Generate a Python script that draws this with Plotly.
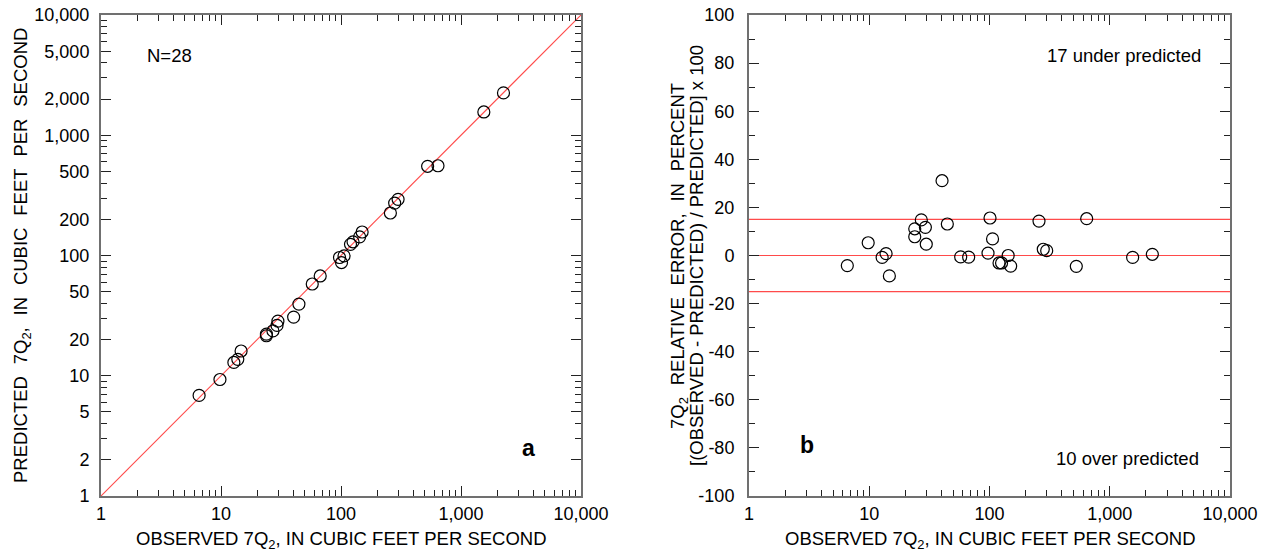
import plotly.graph_objects as go

# ---- data ----
observed = [6.57, 9.8, 12.8, 13.8, 14.7, 23.9, 23.9, 27.1, 29.3, 29.8, 40.3, 44.6, 57.6, 67.1,
            97.2, 101, 106, 120, 126, 143, 150, 258, 280, 299, 527, 643, 1550, 2260]
predicted = [6.86, 9.31, 12.9, 13.69, 16.07, 22.17, 21.51, 23.61, 26.23, 28.46, 30.74, 39.43, 57.95, 67.57,
             96.24, 87.37, 99.16, 123.8, 130.0, 143, 156.9, 225.7, 272.9, 293.1, 551.8, 557.7, 1562, 2249]
relative_error = [-4.2, 5.3, -0.8, 0.8, -8.5, 7.8, 11.1, 14.8, 11.7, 4.7, 31.1, 13.1, -0.6, -0.7,
                  1.0, 15.6, 6.9, -3.1, -3.1, 0.0, -4.4, 14.3, 2.6, 2.0, -4.5, 15.3, -0.8, 0.5]

flow_range = [1, 10000]
error_range = [-100, 100]
reference_levels = [15, 0, -15]

x_tickvals = [1, 10, 100, 1000, 10000]
x_ticktext = ["1", "10", "100", "1,000", "10,000"]
x_minor = [m * 10 ** d for d in range(4) for m in range(2, 10)]
y_tickvals = [1, 2, 5, 10, 20, 50, 100, 200, 500, 1000, 2000, 5000, 10000]
y_ticktext = ["1", "2", "5", "10", "20", "50", "100", "200", "500", "1,000", "2,000", "5,000", "10,000"]
y_minor = [m * 10 ** d for d in range(4) for m in (3, 4, 6, 7, 8, 9)]
err_tickvals = [-100, -80, -60, -40, -20, 0, 20, 40, 60, 80, 100]
err_ticktext = ["-100", "-80", "-60", "-40", "-20", "0", "20", "40", "60", "80", "100"]

W, H = 1267, 554
FONT = "Liberation Sans, Arial, sans-serif"
RED = "#ff4a4a"

fig = go.Figure()
fig.add_trace(go.Scatter(x=flow_range, y=flow_range, mode="lines",
                         line=dict(color=RED, width=1.1), xaxis="x", yaxis="y", showlegend=False,
                         hoverinfo="skip"))
for lvl in reference_levels:
    fig.add_trace(go.Scatter(x=flow_range, y=[lvl, lvl], mode="lines",
                             line=dict(color=RED, width=1.2), xaxis="x2", yaxis="y2",
                             showlegend=False, hoverinfo="skip"))
marker = dict(symbol="circle-open", size=12, color="black", line=dict(width=1.2, color="black"))
fig.add_trace(go.Scatter(x=observed, y=predicted, mode="markers", marker=marker,
                         xaxis="x", yaxis="y", showlegend=False))
fig.add_trace(go.Scatter(x=observed, y=relative_error, mode="markers", marker=marker,
                         xaxis="x2", yaxis="y2", showlegend=False))

common = dict(showline=True, linecolor="#707070", linewidth=2, mirror="ticks", ticks="inside",
              ticklen=10, tickwidth=1.4, tickcolor="#222", showgrid=False, zeroline=False,
              automargin=False, tickfont=dict(family=FONT, size=18, color="black"))

x_left = (101 / W, 581 / W)
x_right = (749 / W, 1230 / W)
y_dom = ((H - 496) / H, (H - 15) / H)

log_x = dict(type="log", range=[0, 4], tickmode="array", tickvals=x_tickvals, ticktext=x_ticktext,
             minor=dict(tickmode="array", tickvals=x_minor, ticks="inside", ticklen=6,
                        tickwidth=1.2, tickcolor="#222"),
             ticklabelstandoff=0, **common)

fig.update_layout(
    width=W, height=H, margin=dict(l=0, r=0, t=0, b=0),
    paper_bgcolor="white", plot_bgcolor="white",
    xaxis=dict(domain=x_left, anchor="y", **log_x),
    yaxis=dict(domain=y_dom, anchor="x", type="log", range=[0, 4], tickmode="array",
               tickvals=y_tickvals, ticktext=y_ticktext,
               minor=dict(tickmode="array", tickvals=y_minor, ticks="inside", ticklen=6,
                          tickwidth=1.2, tickcolor="#222"),
               ticklabelstandoff=6, **common),
    xaxis2=dict(domain=x_right, anchor="y2", **log_x),
    yaxis2=dict(domain=y_dom, anchor="x2", range=error_range, tickmode="array",
                tickvals=err_tickvals, ticktext=err_ticktext,
                minor=dict(tickmode="linear", tick0=0, dtick=10, ticks="inside", ticklen=6,
                           tickwidth=1.2, tickcolor="#222"),
                ticklabelstandoff=9, **common),
)

tf = dict(family=FONT, size=18.5, color="black")
sp = "\u00a0\u00a0\u200a"
ann = [
    # axis titles
    dict(x=341 / W, y=(H - 540) / H, xref="paper", yref="paper", text="OBSERVED 7Q<sub>2</sub>, IN CUBIC FEET PER SECOND",
         showarrow=False, font=tf, xanchor="center", yanchor="middle"),
    dict(x=990 / W, y=(H - 540) / H, xref="paper", yref="paper", text="OBSERVED 7Q<sub>2</sub>, IN CUBIC FEET PER SECOND",
         showarrow=False, font=tf, xanchor="center", yanchor="middle"),
    dict(x=22 / W, y=(H - 256) / H, xref="paper", yref="paper",
         text=f"PREDICTED{sp}7Q<sub>2</sub>,{sp}IN{sp}CUBIC{sp}FEET{sp}PER{sp}SECOND",
         showarrow=False, font=tf, textangle=-90, xanchor="center", yanchor="middle"),
    dict(x=679 / W, y=(H - 256) / H, xref="paper", yref="paper",
         text=f"7Q<sub>2</sub>{sp}RELATIVE{sp}ERROR,{sp}IN{sp}PERCENT",
         showarrow=False, font=tf, textangle=-90, xanchor="center", yanchor="middle"),
    dict(x=696 / W, y=(H - 256) / H, xref="paper", yref="paper",
         text="[(OBSERVED - PREDICTED) / PREDICTED] x 100",
         showarrow=False, font=tf, textangle=-90, xanchor="center", yanchor="middle"),
    # panel texts
    dict(x=0.363, y=3.66, xref="x", yref="y", text="N=28", showarrow=False, font=tf,
         xanchor="left", yanchor="middle"),
    dict(x=3.563, y=0.40, xref="x", yref="y", text="<b>a</b>", showarrow=False,
         font=dict(family=FONT, size=23, color="black"), xanchor="center", yanchor="middle"),
    dict(x=0.48, y=-79, xref="x2", yref="y2", text="<b>b</b>", showarrow=False,
         font=dict(family=FONT, size=23, color="black"), xanchor="center", yanchor="middle"),
    dict(x=3.775, y=83, xref="x2", yref="y2", text="17 under predicted", showarrow=False, font=tf,
         xanchor="right", yanchor="middle"),
    dict(x=3.757, y=-84.5, xref="x2", yref="y2", text="10 over predicted", showarrow=False, font=tf,
         xanchor="right", yanchor="middle"),
]
fig.update_layout(annotations=ann)

fig.write_html("out.html", config={"displayModeBar": False},
               post_script="document.body.style.margin='0';document.body.style.overflow='hidden';")
